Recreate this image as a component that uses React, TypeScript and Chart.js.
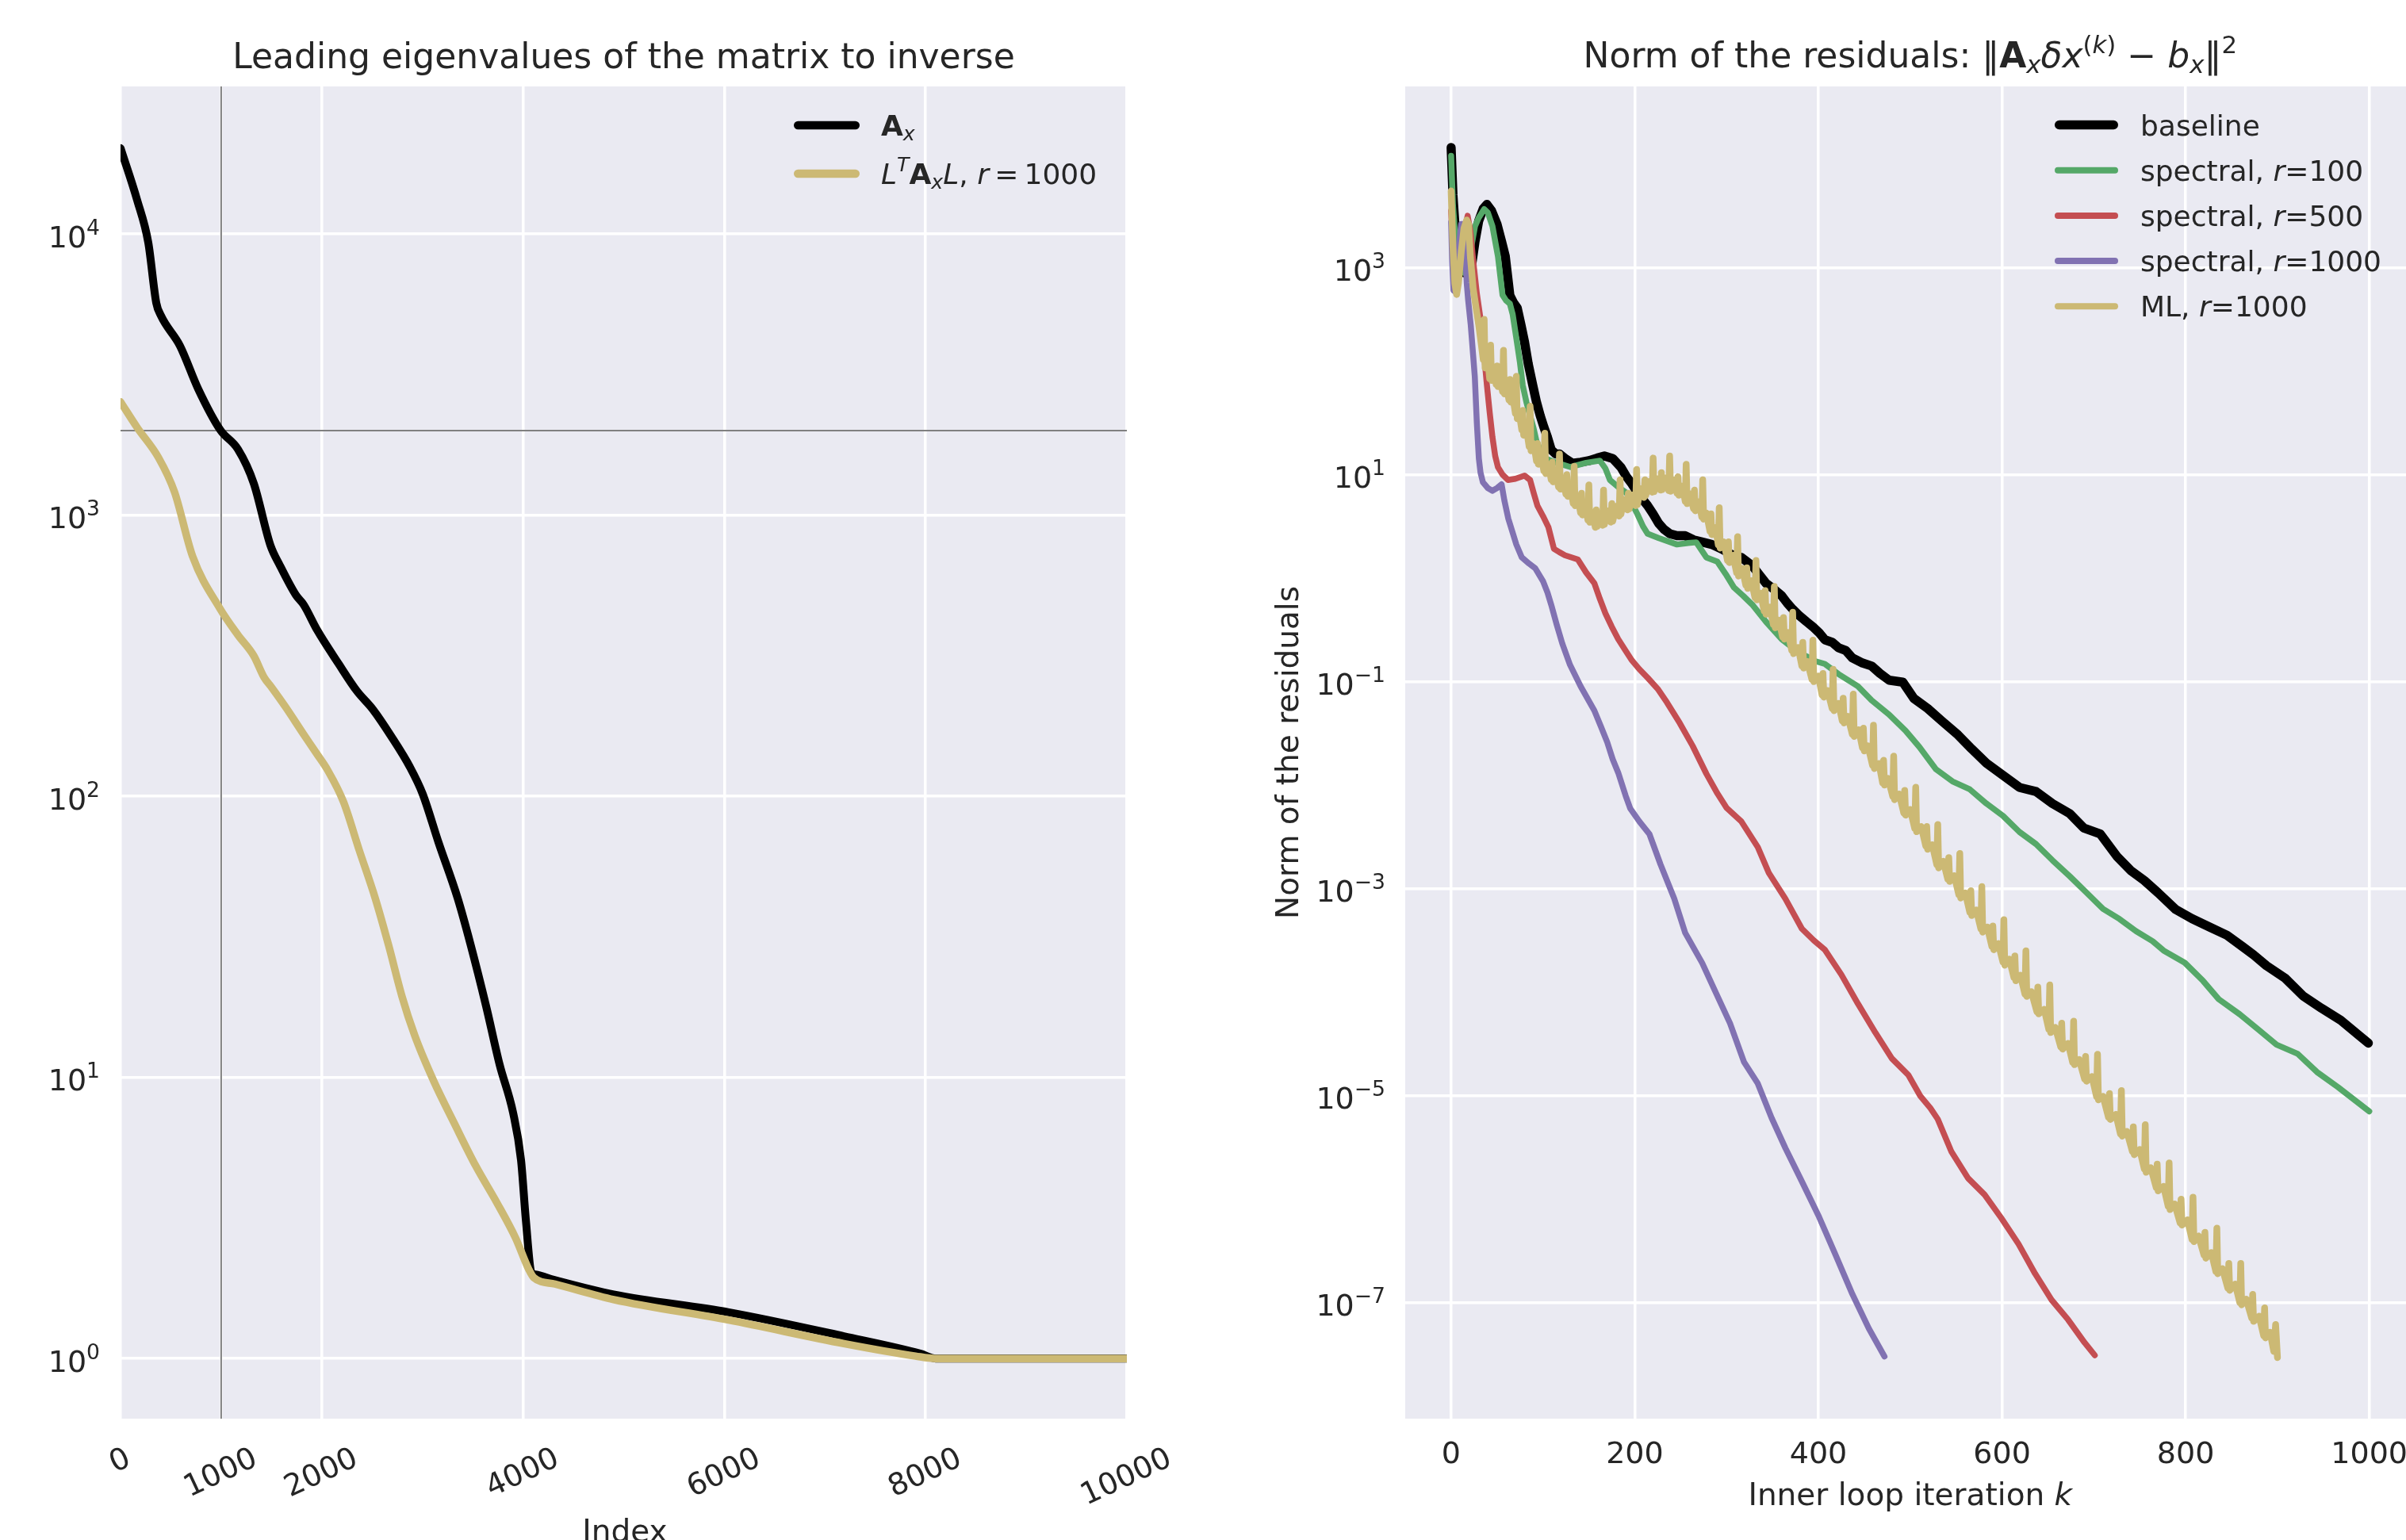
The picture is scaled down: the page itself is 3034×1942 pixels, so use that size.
import React, { useEffect, useRef } from "react";
import { Chart, registerables } from "chart.js";

Chart.register(...registerables);

// ================= Left panel: leading eigenvalues =================
const axIndex = [0, 165, 276, 355, 402, 591, 772, 993, 1166, 1324, 1490, 1584, 1742, 1820, 1954, 2167, 2348, 2506, 2687, 2876, 3002, 3160, 3349, 3475, 3633, 3767, 3901, 3980, 4027, 4082, 4121, 4318, 4900, 6044, 7188, 7951, 8100, 10000];
const axValues = [20200, 13200, 9310, 5690, 5120, 4000, 2810, 2005, 1717, 1297, 780, 662, 520, 480, 390, 296, 237, 204, 164, 127, 102, 68.5, 43.5, 30, 17.9, 11.1, 7.48, 5.07, 3.13, 2.03, 1.99, 1.9, 1.69, 1.46, 1.2, 1.04, 1.0, 1.0];
const ltalIndex = [0, 165, 378, 536, 717, 985, 1166, 1324, 1426, 1505, 1639, 1820, 1954, 2057, 2215, 2372, 2530, 2664, 2797, 2923, 3112, 3317, 3530, 3742, 3924, 4058, 4106, 4318, 4900, 6044, 7188, 7900, 8100, 10000];
const ltalValues = [2530, 2050, 1600, 1210, 712, 467, 375, 316, 265, 243, 208, 166, 141, 124, 95.6, 64.3, 43.5, 29.5, 19.4, 14.1, 9.7, 6.86, 4.84, 3.57, 2.69, 2.07, 1.94, 1.84, 1.62, 1.37, 1.13, 1.02, 1.0, 1.0];
const leftXTicks = [0, 1000, 2000, 4000, 6000, 8000, 10000];
const leftXTickLabels = ["0", "1000", "2000", "4000", "6000", "8000", "10000"];
const leftYTicks = [1, 10, 100, 1000, 10000];
const leftYTickExponents = ["0", "1", "2", "3", "4"];
const refIndex = 1000;
const refEigenvalue = 2000;
const leftXMin = 0;
const leftXMax = 10000;
const leftYMin = Math.pow(10, -0.214);
const leftYMax = Math.pow(10, 4.525);

// ================= Right panel: norm of residuals (log10 values) =================
const baselineK = [0, 2, 5, 9, 14, 18, 22, 26, 30, 35, 39, 44, 50, 55, 59, 64, 68, 72, 76, 80, 84, 89, 93, 97, 101, 105, 109, 114, 118, 125, 132, 141, 150, 159, 167, 176, 185, 191, 197, 205, 214, 220, 226, 232, 238, 246, 255, 264, 273, 284, 295, 305, 316, 322, 328, 335, 343, 352, 360, 366, 372, 379, 387, 394, 401, 407, 415, 422, 430, 437, 448, 458, 467, 477, 492, 504, 519, 534, 552, 567, 583, 601, 619, 637, 655, 674, 689, 707, 725, 740, 755, 770, 789, 807, 826, 845, 862, 874, 888, 908, 928, 948, 969, 989, 999];
const baselineLog = [4.16, 3.70, 3.30, 3.05, 2.95, 2.97, 3.00, 3.25, 3.45, 3.57, 3.61, 3.55, 3.42, 3.25, 3.11, 2.73, 2.66, 2.61, 2.45, 2.28, 2.07, 1.86, 1.70, 1.57, 1.46, 1.36, 1.24, 1.20, 1.20, 1.15, 1.11, 1.12, 1.135, 1.16, 1.18, 1.156, 1.07, 0.98, 0.91, 0.80, 0.70, 0.62, 0.53, 0.47, 0.43, 0.41, 0.41, 0.37, 0.35, 0.325, 0.28, 0.23, 0.20, 0.16, 0.12, 0.04, -0.05, -0.11, -0.17, -0.24, -0.30, -0.36, -0.42, -0.47, -0.53, -0.595, -0.62, -0.673, -0.70, -0.771, -0.82, -0.849, -0.92, -0.986, -1.005, -1.162, -1.259, -1.377, -1.514, -1.65, -1.787, -1.904, -2.022, -2.061, -2.178, -2.276, -2.413, -2.471, -2.686, -2.823, -2.921, -3.04, -3.20, -3.29, -3.37, -3.45, -3.56, -3.64, -3.744, -3.862, -4.037, -4.155, -4.272, -4.419, -4.492];

const spectral100K = [0, 2, 5, 9, 14, 18, 22, 26, 30, 36, 40, 45, 51, 56, 60, 64, 67, 71, 75, 78, 82, 86, 90, 93, 98, 103, 115, 130, 147, 162, 168, 173, 182, 191, 197, 203, 209, 214, 226, 246, 258, 267, 278, 290, 299, 308, 318, 328, 343, 360, 373, 387, 396, 407, 422, 443, 458, 477, 495, 510, 528, 546, 565, 583, 601, 619, 637, 655, 674, 692, 710, 728, 746, 764, 776, 799, 819, 836, 859, 879, 899, 922, 943, 966, 983, 1000];
const spectral100Log = [4.08, 3.60, 3.25, 3.00, 2.95, 3.00, 3.20, 3.40, 3.48, 3.565, 3.53, 3.40, 3.108, 2.734, 2.68, 2.651, 2.55, 2.319, 2.08, 1.862, 1.70, 1.571, 1.44, 1.322, 1.22, 1.156, 1.114, 1.073, 1.114, 1.135, 1.06, 0.948, 0.88, 0.823, 0.72, 0.616, 0.50, 0.429, 0.387, 0.325, 0.34, 0.346, 0.20, 0.159, 0.04, -0.09, -0.17, -0.256, -0.422, -0.589, -0.68, -0.755, -0.80, -0.829, -0.927, -1.044, -1.181, -1.318, -1.474, -1.631, -1.846, -1.963, -2.041, -2.178, -2.296, -2.452, -2.569, -2.726, -2.882, -3.038, -3.195, -3.293, -3.41, -3.507, -3.598, -3.715, -3.891, -4.067, -4.214, -4.36, -4.507, -4.595, -4.771, -4.918, -5.035, -5.152];

const spectral500K = [0, 3, 6, 10, 14, 18, 21, 24, 28, 33, 36, 39, 42, 45, 48, 51, 56, 62, 70, 80, 86, 90, 94, 100, 106, 112, 118, 124, 138, 147, 156, 162, 168, 175, 182, 190, 197, 205, 214, 225, 235, 249, 263, 278, 290, 300, 316, 334, 346, 364, 382, 395, 407, 425, 443, 462, 480, 498, 511, 522, 530, 545, 563, 581, 599, 618, 636, 654, 672, 690, 701];
const spectral500Log = [3.55, 3.00, 2.85, 3.10, 3.35, 3.50, 3.35, 3.07, 2.75, 2.443, 2.15, 1.862, 1.60, 1.363, 1.18, 1.072, 1.00, 0.948, 0.96, 0.99, 0.948, 0.82, 0.699, 0.60, 0.491, 0.283, 0.25, 0.221, 0.18, 0.055, -0.049, -0.20, -0.339, -0.47, -0.589, -0.70, -0.796, -0.88, -0.962, -1.07, -1.20, -1.40, -1.62, -1.89, -2.08, -2.22, -2.35, -2.598, -2.847, -3.096, -3.387, -3.50, -3.59, -3.83, -4.11, -4.39, -4.64, -4.80, -5.003, -5.12, -5.226, -5.543, -5.797, -5.956, -6.179, -6.433, -6.719, -6.973, -7.164, -7.386, -7.507];

const spectral1000K = [0, 1, 2.5, 4, 7, 11, 14, 17, 18.5, 21.4, 24, 25.8, 28, 30.2, 32, 34.6, 40, 44.8, 50, 55, 58, 62.3, 67, 71, 77, 85, 91.5, 100, 105, 109, 115, 121, 129.5, 141, 156, 163, 170, 176, 182, 190, 195, 205, 216, 228, 243, 255, 273.5, 288.6, 303.8, 319, 334, 349, 364, 382.5, 400.7, 419, 437, 455, 472];
const spectral1000Log = [3.44, 3.10, 2.78, 2.77, 3.10, 3.42, 3.42, 2.85, 2.69, 2.443, 2.15, 1.945, 1.50, 1.156, 1.02, 0.927, 0.87, 0.844, 0.87, 0.906, 0.75, 0.574, 0.44, 0.325, 0.20, 0.14, 0.097, -0.028, -0.14, -0.257, -0.45, -0.63, -0.838, -1.045, -1.28, -1.43, -1.585, -1.75, -1.88, -2.10, -2.224, -2.35, -2.473, -2.764, -3.096, -3.428, -3.719, -4.01, -4.301, -4.674, -4.882, -5.214, -5.505, -5.837, -6.17, -6.543, -6.917, -7.25, -7.519];

const mlK = [0, 2, 4, 6, 8, 11, 14, 17, 19, 21, 24, 27, 30, 33, 35,
  36, 37, 40,
  42, 43, 44, 47, 49, 50, 51, 53, 56, 57, 58, 60, 63, 64, 65, 67, 70, 71, 72, 74,
  77, 78, 79, 82, 85, 86, 87, 90, 93, 94, 95, 98, 101, 102, 103, 106, 109, 110, 111, 114,
  117, 118, 119, 122, 125, 126, 127, 130, 133, 134, 135, 138, 141, 142, 143, 146, 149, 150, 151, 154,
  157, 158, 159, 162, 165, 166, 167, 170, 174, 175, 176, 180, 183, 184, 185, 188, 192, 193, 194, 198,
  201, 202, 203, 206, 210, 211, 212, 216, 219, 220, 221, 224, 228, 229, 230, 234, 237, 238, 239, 242,
  246, 247, 248, 252, 255, 256, 257, 260, 264, 265, 266, 270, 273, 274, 275, 278, 282, 283, 284, 288,
  291, 292, 293, 297, 301, 302, 303, 307, 311, 312, 313, 317, 321, 322, 323, 327, 331, 332, 333, 337,
  341, 342, 343, 347, 351, 352, 353, 357, 361, 362, 363, 367, 371, 372, 373, 378, 382, 383, 384, 388,
  393, 394, 395, 400, 404, 405, 406, 410, 415, 416, 417, 422, 426, 427, 428, 432, 437, 438, 439, 444,
  448, 449, 450, 454, 459, 460, 461, 466, 470, 471, 472, 476, 481, 482, 483, 488, 493, 494, 495, 500,
  505, 506, 507, 512, 517, 518, 519, 524, 529, 530, 531, 536, 541, 542, 543, 548, 553, 554, 555, 560,
  565, 566, 567, 572, 577, 578, 579, 584, 589, 590, 591, 596, 601, 602, 603, 608, 613, 614, 615, 620,
  625, 626, 627, 632, 638, 639, 640, 646, 651, 652, 653, 658, 664, 665, 666, 672, 677, 678, 679, 684,
  690, 691, 692, 698, 703, 704, 705, 710, 716, 717, 718, 724, 729, 730, 731, 736, 742, 743, 744, 750,
  755, 756, 757, 762, 768, 769, 770, 776, 781, 782, 783, 788, 794, 795, 796, 802, 807, 808, 809, 814,
  820, 821, 822, 828, 833, 834, 835, 840, 846, 847, 848, 854, 859, 860, 861, 866, 872, 873, 874, 880,
  885, 886, 887, 892,
  896, 898, 900];
const mlLog = [3.74, 3.20, 2.85, 2.74, 2.85, 3.15, 3.38, 3.46, 3.42, 3.10, 2.80, 2.62, 2.45, 2.25, 2.11,
  2.50, 2.03, 2.10,
  1.925, 2.25, 1.91, 2.01, 1.87, 2.05, 1.85, 1.945, 1.80, 2.20, 1.78, 1.87, 1.72, 1.92, 1.70, 1.765, 1.59, 1.95, 1.54, 1.605,
  1.43, 1.62, 1.38, 1.445, 1.27, 1.66, 1.23, 1.30, 1.13, 1.30, 1.10, 1.19, 1.035, 1.40, 1.01, 1.10, 0.95, 1.12, 0.93, 1.025,
  0.88, 1.20, 0.86, 0.955, 0.81, 1.00, 0.79, 0.875, 0.72, 1.08, 0.70, 0.785, 0.63, 0.82, 0.61, 0.705, 0.56, 0.90, 0.54, 0.635,
  0.49, 0.66, 0.50, 0.625, 0.51, 0.85, 0.52, 0.65, 0.54, 0.72, 0.55, 0.695, 0.60, 0.95, 0.62, 0.76, 0.66, 0.82, 0.67, 0.805,
  0.70, 1.05, 0.71, 0.865, 0.78, 0.95, 0.80, 0.935, 0.83, 1.16, 0.835, 0.96, 0.85, 1.02, 0.855, 0.97, 0.845, 1.18, 0.84, 0.95,
  0.82, 0.98, 0.80, 0.89, 0.74, 1.10, 0.72, 0.815, 0.67, 0.85, 0.65, 0.74, 0.59, 0.95, 0.57, 0.63, 0.45, 0.62, 0.42, 0.49,
  0.32, 0.68, 0.29, 0.35, 0.17, 0.35, 0.15, 0.22, 0.05, 0.40, 0.02, 0.095, -0.07, 0.10, -0.10, -0.025, -0.19, 0.17, -0.21, -0.145,
  -0.32, -0.12, -0.35, -0.28, -0.45, -0.08, -0.48, -0.405, -0.57, -0.38, -0.59, -0.525, -0.70, -0.33, -0.73, -0.67, -0.85, -0.62, -0.87, -0.805,
  -0.98, -0.60, -1.00, -0.945, -1.13, -0.92, -1.15, -1.085, -1.26, -0.88, -1.28, -1.21, -1.38, -1.16, -1.40, -1.335, -1.51, -1.12, -1.53, -1.465,
  -1.64, -1.45, -1.67, -1.62, -1.81, -1.42, -1.84, -1.79, -1.98, -1.76, -2.00, -1.935, -2.11, -1.72, -2.14, -2.085, -2.27, -2.05, -2.29, -2.235,
  -2.42, -2.02, -2.45, -2.40, -2.59, -2.40, -2.62, -2.575, -2.77, -2.38, -2.80, -2.735, -2.91, -2.70, -2.93, -2.875, -3.06, -2.66, -3.09, -3.04,
  -3.23, -3.02, -3.26, -3.205, -3.39, -2.98, -3.42, -3.37, -3.56, -3.36, -3.59, -3.53, -3.71, -3.30, -3.74, -3.68, -3.86, -3.65, -3.89, -3.835,
  -4.02, -3.60, -4.04, -3.995, -4.19, -3.95, -4.21, -4.165, -4.36, -3.93, -4.39, -4.34, -4.53, -4.30, -4.55, -4.495, -4.68, -4.28, -4.70, -4.65,
  -4.84, -4.62, -4.86, -4.815, -5.01, -4.60, -5.04, -5.005, -5.21, -4.98, -5.23, -5.18, -5.37, -4.95, -5.39, -5.345, -5.54, -5.30, -5.57, -5.52,
  -5.71, -5.28, -5.74, -5.695, -5.89, -5.66, -5.92, -5.875, -6.07, -5.65, -6.10, -6.045, -6.23, -6.00, -6.25, -6.20, -6.39, -5.98, -6.41, -6.355,
  -6.54, -6.32, -6.57, -6.515, -6.70, -6.28, -6.72, -6.67, -6.86, -6.62, -6.88, -6.82, -7.00, -6.62, -7.02, -6.965, -7.15, -6.92, -7.18, -7.13,
  -7.32, -7.05, -7.34, -7.285,
  -7.47, -7.21, -7.53];

const rightXTicks = [0, 200, 400, 600, 800, 1000];
const rightXTickLabels = ["0", "200", "400", "600", "800", "1000"];
const rightYTicks = [1e-7, 1e-5, 1e-3, 1e-1, 1e1, 1e3];
const rightYTickExponents = ["\u22127", "\u22125", "\u22123", "\u22121", "1", "3"];
const rightXMin = -50;
const rightXMax = 1040;
const rightYMin = Math.pow(10, -8.12);
const rightYMax = Math.pow(10, 4.75);

// ================= styling helpers =================
const FAMILY = '"DejaVu Sans"';
const TEXT = "#262626";
const PANEL_BG = "#EAEAF2";
const W = 3034;
const H = 1942;
const HALF = 1517;

type Seg = { t: string; f?: "b" | "i"; v?: "sub" | "sup" };

function segFont(s: Seg, size: number) {
  const sz = s.v ? size * 0.7 : size;
  return `${s.f === "i" ? "italic " : ""}${s.f === "b" ? "bold " : ""}${sz}px ${FAMILY}`;
}
function richWidth(ctx: CanvasRenderingContext2D, segs: Seg[], size: number) {
  let w = 0;
  for (const s of segs) {
    ctx.font = segFont(s, size);
    w += ctx.measureText(s.t).width;
  }
  return w;
}
function drawRich(ctx: CanvasRenderingContext2D, segs: Seg[], x: number, y: number, size: number, align: "left" | "center" | "right") {
  const w = richWidth(ctx, segs, size);
  let cx = align === "center" ? x - w / 2 : align === "right" ? x - w : x;
  ctx.textAlign = "left";
  ctx.textBaseline = "alphabetic";
  for (const s of segs) {
    ctx.font = segFont(s, size);
    const dy = s.v === "sub" ? size * 0.17 : s.v === "sup" ? -size * 0.42 : 0;
    ctx.fillText(s.t, cx, y + dy);
    cx += ctx.measureText(s.t).width;
  }
}
function drawHandle(ctx: CanvasRenderingContext2D, x1: number, x2: number, y: number, color: string, lw: number) {
  ctx.save();
  ctx.strokeStyle = color;
  ctx.lineWidth = lw;
  ctx.lineCap = "round";
  ctx.beginPath();
  ctx.moveTo(x1 + lw / 2, y);
  ctx.lineTo(x2 - lw / 2, y);
  ctx.stroke();
  ctx.restore();
}

const toPoints = (xs: number[], ys: number[]) => {
  const n = Math.min(xs.length, ys.length);
  const out: { x: number; y: number }[] = [];
  for (let i = 0; i < n; i++) out.push({ x: xs[i], y: ys[i] });
  return out;
};
const toLogPoints = (xs: number[], logs: number[]) => {
  const n = Math.min(xs.length, logs.length);
  const out: { x: number; y: number }[] = [];
  for (let i = 0; i < n; i++) out.push({ x: xs[i], y: Math.pow(10, logs[i]) });
  return out;
};

const leftTitle: Seg[] = [{ t: "Leading eigenvalues of the matrix to inverse" }];
const rightTitle: Seg[] = [
  { t: "Norm of the residuals: " }, { t: "\u2016" }, { t: "A", f: "b" }, { t: "x", f: "i", v: "sub" },
  { t: "\u03b4", f: "i" }, { t: "x", f: "i" }, { t: "(", v: "sup" }, { t: "k", f: "i", v: "sup" }, { t: ")", v: "sup" },
  { t: " \u2212 " }, { t: "b", f: "i" }, { t: "x", f: "i", v: "sub" }, { t: "\u2016" }, { t: "2", v: "sup" },
];
const leftLegend: Seg[][] = [
  [{ t: "A", f: "b" }, { t: "x", f: "i", v: "sub" }],
  [{ t: "L", f: "i" }, { t: "T", f: "i", v: "sup" }, { t: "A", f: "b" }, { t: "x", f: "i", v: "sub" }, { t: "L", f: "i" }, { t: ", " }, { t: "r", f: "i" }, { t: "\u2009=\u20091000" }],
];
const rightLegend: Seg[][] = [
  [{ t: "baseline" }],
  [{ t: "spectral, " }, { t: "r", f: "i" }, { t: "=100" }],
  [{ t: "spectral, " }, { t: "r", f: "i" }, { t: "=500" }],
  [{ t: "spectral, " }, { t: "r", f: "i" }, { t: "=1000" }],
  [{ t: "ML, " }, { t: "r", f: "i" }, { t: "=1000" }],
];

const TICK_SIZE = 38;
const LABEL_SIZE = 39;
const TITLE_SIZE = 44;
const LEGEND_SIZE = 36;
const ROT = 25;

function bgPlugin(id: string) {
  return {
    id,
    beforeDraw(chart: any) {
      const { ctx, chartArea: a } = chart;
      ctx.save();
      ctx.fillStyle = "#ffffff";
      ctx.fillRect(0, 0, chart.width, chart.height);
      ctx.fillStyle = PANEL_BG;
      ctx.fillRect(a.left, a.top, a.right - a.left, a.bottom - a.top);
      ctx.restore();
    },
  };
}

const leftDecor = {
  id: "leftDecor",
  beforeDatasetsDraw(chart: any) {
    const { ctx, chartArea: a, scales } = chart;
    const x = scales.x.getPixelForValue(refIndex);
    const y = scales.y.getPixelForValue(refEigenvalue);
    ctx.save();
    ctx.beginPath();
    ctx.rect(a.left, a.top, a.right - a.left, a.bottom - a.top);
    ctx.clip();
    ctx.strokeStyle = "#808080";
    ctx.lineWidth = 2;
    ctx.beginPath();
    ctx.moveTo(x, a.top);
    ctx.lineTo(x, a.bottom);
    ctx.moveTo(a.left, y);
    ctx.lineTo(a.right, y);
    ctx.stroke();
    ctx.restore();
  },
  afterDraw(chart: any) {
    const { ctx, chartArea: a, scales } = chart;
    ctx.save();
    ctx.fillStyle = TEXT;
    drawRich(ctx, leftTitle, (a.left + a.right) / 2, 86, TITLE_SIZE, "center");
    leftYTicks.forEach((v, i) => {
      const y = scales.y.getPixelForValue(v);
      drawRich(ctx, [{ t: "10" }, { t: leftYTickExponents[i], v: "sup" }], a.left - 26, y + 16.5, TICK_SIZE, "right");
    });
    const th = (ROT * Math.PI) / 180;
    ctx.font = `${TICK_SIZE}px ${FAMILY}`;
    leftXTicks.forEach((v, i) => {
      const x = scales.x.getPixelForValue(v);
      const lbl = leftXTickLabels[i];
      const w = ctx.measureText(lbl).width;
      const h = TICK_SIZE * 0.73;
      const bh = w * Math.sin(th) + h * Math.cos(th);
      const cy = a.bottom + 33 + bh / 2;
      ctx.save();
      ctx.translate(x - 2, cy);
      ctx.rotate(-th);
      ctx.textAlign = "center";
      ctx.textBaseline = "alphabetic";
      ctx.fillText(lbl, 0, h / 2);
      ctx.restore();
    });
    drawRich(ctx, [{ t: "Index" }], 788, 1943.5, LABEL_SIZE, "center");
    const ds = chart.data.datasets;
    leftLegend.forEach((segs, i) => {
      const y = 158 + i * 61;
      drawHandle(ctx, 1001, 1084, y, ds[i].borderColor, 10.5);
      ctx.fillStyle = TEXT;
      drawRich(ctx, segs, 1111, y + 12.5, LEGEND_SIZE, "left");
    });
    ctx.restore();
  },
};

const rightDecor = {
  id: "rightDecor",
  afterDraw(chart: any) {
    const { ctx, chartArea: a, scales } = chart;
    ctx.save();
    ctx.fillStyle = TEXT;
    const fullRight = scales.x.getPixelForValue(1050);
    const axCenter = (a.left + fullRight) / 2;
    drawRich(ctx, rightTitle, axCenter, 85, TITLE_SIZE, "center");
    rightYTicks.forEach((v, i) => {
      const y = scales.y.getPixelForValue(v);
      drawRich(ctx, [{ t: "10" }, { t: rightYTickExponents[i], v: "sup" }], a.left - 25, y + 16.5, TICK_SIZE, "right");
    });
    ctx.font = `${TICK_SIZE}px ${FAMILY}`;
    ctx.textAlign = "center";
    ctx.textBaseline = "alphabetic";
    rightXTicks.forEach((v, i) => {
      const x = scales.x.getPixelForValue(v);
      ctx.fillText(rightXTickLabels[i], x, a.bottom + 56);
    });
    drawRich(ctx, [{ t: "Inner loop iteration " }, { t: "k", f: "i" }], axCenter, 1898, LABEL_SIZE, "center");
    ctx.save();
    ctx.translate(1637 - HALF, (a.top + a.bottom) / 2);
    ctx.rotate(-Math.PI / 2);
    ctx.font = `${LABEL_SIZE}px ${FAMILY}`;
    ctx.textAlign = "center";
    ctx.textBaseline = "alphabetic";
    ctx.fillText("Norm of the residuals", 0, 0);
    ctx.restore();
    const ds = chart.data.datasets;
    rightLegend.forEach((segs, i) => {
      const y = 157.5 + i * 57.2;
      drawHandle(ctx, 2591 - HALF, 2671 - HALF, y, ds[i].borderColor, i === 0 ? 11.5 : 8);
      ctx.fillStyle = TEXT;
      drawRich(ctx, segs, 2699 - HALF, y + 13, LEGEND_SIZE, "left");
    });
    ctx.restore();
  },
};

function gridOpts() {
  return { color: "#ffffff", lineWidth: 3.5, drawTicks: false, drawOnChartArea: true };
}

function lineDs(label: string, data: any[], color: string, width: number, order: number, smooth: boolean) {
  return {
    label,
    data,
    borderColor: color,
    backgroundColor: color,
    borderWidth: width,
    pointRadius: 0,
    pointHoverRadius: 0,
    fill: false,
    order,
    clip: 0,
    borderCapStyle: "round",
    borderJoinStyle: "round",
    cubicInterpolationMode: smooth ? "monotone" : "default",
    tension: 0,
  };
}

function leftConfig(): any {
  return {
    type: "line",
    data: {
      datasets: [
        lineDs("A_x", toPoints(axIndex, axValues), "#000000", 10, 2, true),
        lineDs("L^T A_x L, r = 1000", toPoints(ltalIndex, ltalValues), "#CCB974", 9.5, 1, true),
      ],
    },
    options: {
      animation: false,
      responsive: false,
      maintainAspectRatio: false,
      devicePixelRatio: 1,
      events: [],
      layout: { padding: { left: 152, right: HALF - 1421, top: 109, bottom: H - 1789 } },
      plugins: { legend: { display: false }, title: { display: false }, tooltip: { enabled: false } },
      scales: {
        x: {
          type: "linear", min: leftXMin, max: leftXMax, bounds: "data",
          ticks: { display: false }, grid: gridOpts(), border: { display: false },
          afterBuildTicks: (s: any) => { s.ticks = leftXTicks.map((v) => ({ value: v })); },
          afterFit: (s: any) => { s.height = 0; },
        },
        y: {
          type: "logarithmic", min: leftYMin, max: leftYMax, bounds: "data",
          ticks: { display: false }, grid: gridOpts(), border: { display: false },
          afterBuildTicks: (s: any) => { s.ticks = leftYTicks.map((v) => ({ value: v })); },
          afterFit: (s: any) => { s.width = 0; },
        },
      },
    },
    plugins: [bgPlugin("leftBg"), leftDecor],
  };
}

function rightConfig(): any {
  return {
    type: "line",
    data: {
      datasets: [
        lineDs("baseline", toLogPoints(baselineK, baselineLog), "#000000", 11.5, 5, false),
        lineDs("spectral, r=100", toLogPoints(spectral100K, spectral100Log), "#55A868", 7.5, 4, false),
        lineDs("spectral, r=500", toLogPoints(spectral500K, spectral500Log), "#C44E52", 7.5, 3, false),
        lineDs("spectral, r=1000", toLogPoints(spectral1000K, spectral1000Log), "#8172B2", 7.5, 2, false),
        lineDs("ML, r=1000", toLogPoints(mlK, mlLog), "#CCB974", 8.5, 1, false),
      ],
    },
    options: {
      animation: false,
      responsive: false,
      maintainAspectRatio: false,
      devicePixelRatio: 1,
      events: [],
      layout: { padding: { left: 1772 - HALF, right: 0, top: 109, bottom: H - 1789 } },
      plugins: { legend: { display: false }, title: { display: false }, tooltip: { enabled: false } },
      scales: {
        x: {
          type: "linear", min: rightXMin, max: rightXMax, bounds: "data",
          ticks: { display: false }, grid: gridOpts(), border: { display: false },
          afterBuildTicks: (s: any) => { s.ticks = rightXTicks.map((v) => ({ value: v })); },
          afterFit: (s: any) => { s.height = 0; },
        },
        y: {
          type: "logarithmic", min: rightYMin, max: rightYMax, bounds: "data",
          ticks: { display: false }, grid: gridOpts(), border: { display: false },
          afterBuildTicks: (s: any) => { s.ticks = rightYTicks.map((v) => ({ value: v })); },
          afterFit: (s: any) => { s.width = 0; },
        },
      },
    },
    plugins: [bgPlugin("rightBg"), rightDecor],
  };
}

export default function App() {
  const leftRef = useRef<HTMLCanvasElement | null>(null);
  const rightRef = useRef<HTMLCanvasElement | null>(null);

  useEffect(() => {
    const charts: Chart[] = [];
    if (leftRef.current) charts.push(new Chart(leftRef.current, leftConfig()));
    if (rightRef.current) charts.push(new Chart(rightRef.current, rightConfig()));
    return () => charts.forEach((c) => c.destroy());
  }, []);

  return (
    <div style={{ position: "fixed", left: 0, top: 0, width: W, height: H, background: "#ffffff", overflow: "hidden" }}>
      <canvas ref={leftRef} width={HALF} height={H} style={{ position: "absolute", left: 0, top: 0, width: HALF, height: H }} />
      <canvas ref={rightRef} width={W - HALF} height={H} style={{ position: "absolute", left: HALF, top: 0, width: W - HALF, height: H }} />
    </div>
  );
}
